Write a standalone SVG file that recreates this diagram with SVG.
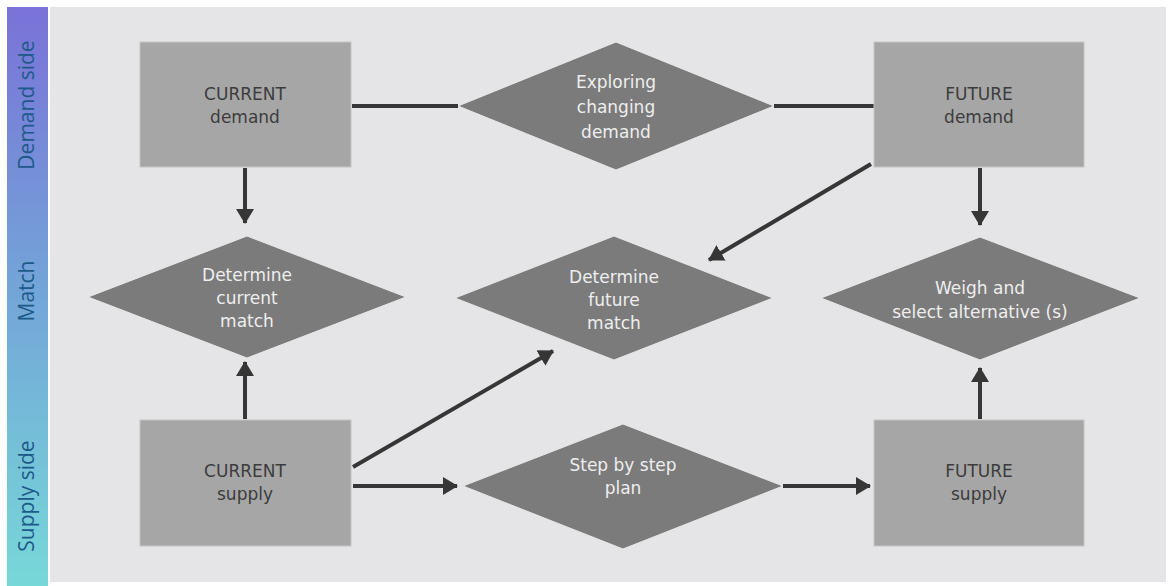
<svg xmlns="http://www.w3.org/2000/svg" width="1173" height="586" viewBox="0 0 1173 586">
  <style>
    .box { fill: #a6a6a6; stroke: #c4c4c4; stroke-width: 1; }
    .dia { fill: #7b7b7b; stroke: #e8e8e8; stroke-width: 1; }
    .boxtxt { font-family: "DejaVu Sans", Verdana, sans-serif; font-size: 17px; fill: #3c3c3c; text-anchor: middle; }
    .diatxt { font-family: "DejaVu Sans", Verdana, sans-serif; font-size: 17px; fill: #eeeeee; text-anchor: middle; }
    .lane { font-family: "Open Sans", "Noto Sans", sans-serif; font-size: 21px; fill: #1d5a8a; text-anchor: middle; }
    .conn { stroke: #363636; stroke-width: 4; fill: none; }
  </style>
  <defs>
    <linearGradient id="laneGrad" x1="0" y1="0" x2="0" y2="1">
      <stop offset="0" stop-color="#7a72d8"/>
      <stop offset="0.5" stop-color="#73a6d8"/>
      <stop offset="1" stop-color="#77d8d8"/>
    </linearGradient>
    <marker id="arrow" markerUnits="userSpaceOnUse" markerWidth="20" markerHeight="20" viewBox="0 0 20 20" refX="14" refY="10" orient="auto">
      <path d="M0,1 L15,10 L0,19 Z" fill="#363636"/>
    </marker>
  </defs>

  <!-- page -->
  <rect x="0" y="0" width="1173" height="586" fill="#ffffff"/>
  <rect x="50" y="7" width="1116" height="575" fill="#e5e5e7"/>

  <!-- lane strip -->
  <g id="lanes">
    <rect x="7" y="7" width="41" height="579" fill="url(#laneGrad)"/>
    <text class="lane" transform="translate(34,105) rotate(-90)">Demand side</text>
    <text class="lane" transform="translate(34,291) rotate(-90)">Match</text>
    <text class="lane" transform="translate(34,496) rotate(-90)">Supply side</text>
  </g>

  <!-- connectors -->
  <g id="connectors">
    <line class="conn" x1="352" y1="106" x2="458" y2="106"/>
    <line class="conn" x1="774" y1="106" x2="875" y2="106"/>
    <line class="conn" x1="245" y1="168" x2="245" y2="223" marker-end="url(#arrow)"/>
    <line class="conn" x1="245" y1="419" x2="245" y2="362" marker-end="url(#arrow)"/>
    <line class="conn" x1="980" y1="168" x2="980" y2="225" marker-end="url(#arrow)"/>
    <line class="conn" x1="980" y1="419" x2="980" y2="368" marker-end="url(#arrow)"/>
    <line class="conn" x1="871" y1="164" x2="709" y2="260" marker-end="url(#arrow)"/>
    <line class="conn" x1="353" y1="467" x2="553" y2="351" marker-end="url(#arrow)"/>
    <line class="conn" x1="353" y1="486" x2="457" y2="486" marker-end="url(#arrow)"/>
    <line class="conn" x1="783" y1="486" x2="870" y2="486" marker-end="url(#arrow)"/>
  </g>

  <!-- demand row -->
  <g id="current-demand">
    <rect class="box" x="140" y="42" width="211" height="125"/>
    <text class="boxtxt" x="245" y="100">CURRENT</text>
    <text class="boxtxt" x="245" y="123">demand</text>
  </g>
  <g id="exploring-demand">
    <polygon class="dia" points="458,106 616,42 774,106 616,170"/>
    <text class="diatxt" x="616" y="88">Exploring</text>
    <text class="diatxt" x="616" y="113">changing</text>
    <text class="diatxt" x="616" y="138">demand</text>
  </g>
  <g id="future-demand">
    <rect class="box" x="874" y="42" width="210" height="125"/>
    <text class="boxtxt" x="979" y="100">FUTURE</text>
    <text class="boxtxt" x="979" y="123">demand</text>
  </g>

  <!-- match row -->
  <g id="current-match">
    <polygon class="dia" points="88,297 247,236 406,297 247,358"/>
    <text class="diatxt" x="247" y="281">Determine</text>
    <text class="diatxt" x="247" y="304">current</text>
    <text class="diatxt" x="247" y="327">match</text>
  </g>
  <g id="future-match">
    <polygon class="dia" points="455,298 614,236 773,298 614,360"/>
    <text class="diatxt" x="614" y="283">Determine</text>
    <text class="diatxt" x="614" y="306">future</text>
    <text class="diatxt" x="614" y="329">match</text>
  </g>
  <g id="weigh-select">
    <polygon class="dia" points="821,298 980,237 1140,298 980,360"/>
    <text class="diatxt" x="980" y="294">Weigh and</text>
    <text class="diatxt" x="980" y="318">select alternative (s)</text>
  </g>

  <!-- supply row -->
  <g id="current-supply">
    <rect class="box" x="140" y="420" width="211" height="126"/>
    <text class="boxtxt" x="245" y="477">CURRENT</text>
    <text class="boxtxt" x="245" y="500">supply</text>
  </g>
  <g id="step-plan">
    <polygon class="dia" points="463,486 623,424 783,486 623,549"/>
    <text class="diatxt" x="623" y="471">Step by step</text>
    <text class="diatxt" x="623" y="494">plan</text>
  </g>
  <g id="future-supply">
    <rect class="box" x="874" y="420" width="210" height="126"/>
    <text class="boxtxt" x="979" y="477">FUTURE</text>
    <text class="boxtxt" x="979" y="500">supply</text>
  </g>
</svg>
